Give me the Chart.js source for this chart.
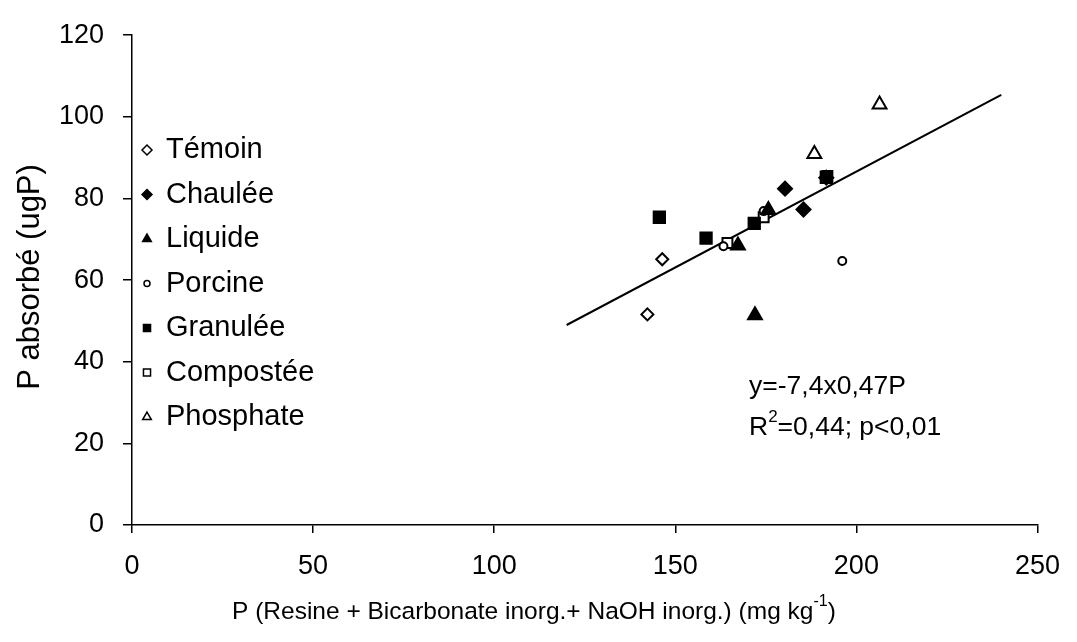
<!DOCTYPE html>
<html>
<head>
<meta charset="utf-8">
<script src="https://cdn.jsdelivr.net/npm/chart.js@4/dist/chart.umd.min.js"></script>
<style>
  html, body { margin: 0; padding: 0; background: #fff; }
</style>
</head>
<body>
<canvas id="myChart" width="1077" height="642"></canvas>
<script>
// data
const temoinX = [146.4, 142.3];
const temoinY = [65.1, 51.6];
const chauleeX = [180.3, 185.4, 191.7];
const chauleeY = [82.4, 77.3, 85.1];
const liquideX = [175.7, 167.3, 172.0];
const liquideY = [77.2, 68.5, 51.4];
const porcineX = [174.4, 163.3, 196.1];
const porcineY = [76.9, 68.3, 64.7];
const granuleeX = [145.6, 158.5, 171.8, 191.7];
const granuleeY = [75.4, 70.3, 73.9, 85.2];
const composteeX = [164.4, 174.4, 192.0];
const composteeY = [69.1, 75.4, 85.5];
const phosphateX = [206.4, 188.4];
const phosphateY = [103.0, 90.9];
const trendX = [120, 240];
const trendY = [49.0, 105.4];
const xTicks = [0, 50, 100, 150, 200, 250];
const yTicks = [0, 20, 40, 60, 80, 100, 120];

const FONT = "'Liberation Sans', Arial, sans-serif";

function pts(xs, ys) {
  return xs.map((x, i) => ({ x: x, y: ys[i] }));
}

// name, x, y, pointStyle, filled, radius
const series = [
  ["Témoin", temoinX, temoinY, "rectRot", false, 6],
  ["Chaulée", chauleeX, chauleeY, "rectRot", true, 7],
  ["Liquide", liquideX, liquideY, "triangle", true, 8],
  ["Porcine", porcineX, porcineY, "circle", false, 4],
  ["Granulée", granuleeX, granuleeY, "rect", true, 8],
  ["Compostée", composteeX, composteeY, "rect", false, 7],
  ["Phosphate", phosphateX, phosphateY, "triangle", false, 8],
];

const datasets = series.map((s) => ({
  label: s[0],
  data: pts(s[1], s[2]),
  pointStyle: s[3],
  pointRadius: s[5],
  pointBackgroundColor: s[4] ? "#000" : "#fff",
  pointBorderColor: "#000",
  pointBorderWidth: 2,
  showLine: false,
}));

datasets.push({
  label: "trend",
  type: "line",
  data: pts(trendX, trendY),
  borderColor: "#000",
  borderWidth: 2,
  pointRadius: 0,
  fill: false,
});

// extra texts: axis titles, legend, equation
const textPlugin = {
  id: "texts",
  beforeDraw(chart) {
    const c = chart.ctx;
    c.save();
    c.fillStyle = "#fff";
    c.fillRect(0, 0, chart.width, chart.height);
    c.restore();
  },
  afterDraw(chart) {
    const c = chart.ctx;
    c.save();
    c.fillStyle = "#000";
    c.textBaseline = "middle";

    // y title
    c.save();
    c.font = "31px " + FONT;
    c.translate(30, 277);
    c.rotate(-Math.PI / 2);
    c.textAlign = "center";
    c.fillText("P absorbé (ugP)", 0, 0);
    c.restore();

    // x title with superscript
    c.textAlign = "left";
    c.font = "24.5px " + FONT;
    let x = 232;
    const y = 612;
    const main = "P (Resine + Bicarbonate inorg.+ NaOH inorg.) (mg kg";
    c.fillText(main, x, y);
    x += c.measureText(main).width;
    c.font = "16px " + FONT;
    c.fillText("-1", x, y - 10);
    x += c.measureText("-1").width;
    c.font = "24.5px " + FONT;
    c.fillText(")", x, y);

    // legend
    c.font = "29px " + FONT;
    series.forEach((s, i) => {
      const ly = 150 + i * 44.5;
      c.fillStyle = s[4] ? "#000" : "#fff";
      c.strokeStyle = "#000";
      c.lineWidth = 1.5;
      Chart.helpers.drawPoint(c, { pointStyle: s[3], radius: s[3] === "circle" ? 3 : 5, rotation: 0, borderWidth: 1.5 }, 147, ly);
      c.fillStyle = "#000";
      c.fillText(s[0], 166, ly);
    });

    // equation
    c.font = "26.5px " + FONT;
    c.fillText("y=-7,4x0,47P", 749, 387);
    let ex = 749;
    c.fillText("R", ex, 428);
    ex += c.measureText("R").width;
    c.font = "17px " + FONT;
    c.fillText("2", ex, 417);
    ex += c.measureText("2").width;
    c.font = "26.5px " + FONT;
    c.fillText("=0,44; p<0,01", ex, 428);
    c.restore();
  },
};

new Chart(document.getElementById("myChart"), {
  type: "scatter",
  data: { datasets: datasets },
  options: {
    responsive: false,
    animation: false,
    layout: { padding: { left: 0, right: 31, top: 28, bottom: 0 } },
    plugins: { legend: { display: false }, tooltip: { enabled: false } },
    scales: {
      x: {
        type: "linear",
        min: 0,
        max: 250,
        afterBuildTicks: (s) => { s.ticks = xTicks.map((v) => ({ value: v })); },
        afterFit: (s) => { s.height = 117; },
        ticks: { color: "#000", font: { family: FONT, size: 27 }, padding: 17, maxRotation: 0 },
        grid: { drawOnChartArea: false, tickLength: 8, color: "#000", lineWidth: 1.5 },
        border: { color: "#000", width: 1.5 },
      },
      y: {
        type: "linear",
        min: 0,
        max: 120,
        afterBuildTicks: (s) => { s.ticks = yTicks.map((v) => ({ value: v })); },
        afterFit: (s) => { s.width = 132; },
        ticks: { color: "#000", font: { family: FONT, size: 27 }, padding: 19 },
        grid: { drawOnChartArea: false, tickLength: 9, color: "#000", lineWidth: 1.5 },
        border: { color: "#000", width: 1.5 },
      },
    },
  },
  plugins: [textPlugin],
});
</script>
</body>
</html>
